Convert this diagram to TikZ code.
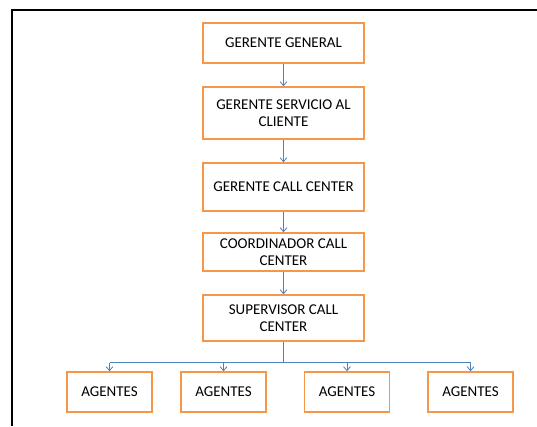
\documentclass[tikz,border=0pt]{standalone}
\usepackage{fontspec}
\setmainfont{Carlito}
\usetikzlibrary{arrows.meta}
\definecolor{boxorange}{HTML}{F79646}
\definecolor{linkblue}{HTML}{4F81BD}

\begin{document}
\begin{tikzpicture}[x=1pt,y=-1pt,
  role/.style={draw=boxorange, line width=1.6pt, fill=white, align=center,
    font=\fontsize{15}{17.5}\selectfont, inner sep=0pt, minimum width=161pt},
  agent/.style={role, minimum width=85pt, minimum height=40pt},
  wire/.style={draw=linkblue, line width=0.9pt},
  link/.style={wire, -{Straight Barb[length=4pt,width=7pt,line width=0.8pt]}}]

  % page area
  \useasboundingbox (0,0) rectangle (537,426);
  \fill[white] (0,0) rectangle (537,426);

  % frame around the chart
  \draw[line width=2pt, black] (12,426) -- (12,10) -- (537,10);

  % management chain
  \node[role, minimum height=40pt] (gg)    at (283.5,43)  {GERENTE GENERAL};
  \node[role, minimum height=52pt] (gsc)   at (283.5,113) {GERENTE SERVICIO AL\\CLIENTE};
  \node[role, minimum height=48pt] (gcc)   at (283.5,187) {GERENTE CALL CENTER};
  \node[role, minimum height=38pt] (coord) at (283.5,252) {COORDINADOR CALL\\CENTER};
  \node[role, minimum height=46pt] (sup)   at (283.5,318) {SUPERVISOR CALL\\CENTER};

  % agents
  \node[agent] (a1) at (109.5,392) {AGENTES};
  \node[agent] (a2) at (223.5,392) {AGENTES};
  \node[agent] (a3) at (347,392)   {AGENTES};
  \node[agent] (a4) at (470.5,392) {AGENTES};

  % vertical links
  \draw[link] (gg.south)    -- (gsc.north);
  \draw[link] (gsc.south)   -- (gcc.north);
  \draw[link] (gcc.south)   -- (coord.north);
  \draw[link] (coord.south) -- (sup.north);

  % distribution bus to the agents
  \coordinate (bus) at (283.5,362.5);
  \draw[wire] (sup.south) -- (bus);
  \draw[wire] (bus -| a1.north) -- (bus -| a4.north);
  \foreach \a in {a1,a2,a3,a4}
    \draw[link] (bus -| \a.north) -- (\a.north);
\end{tikzpicture}
\end{document}
